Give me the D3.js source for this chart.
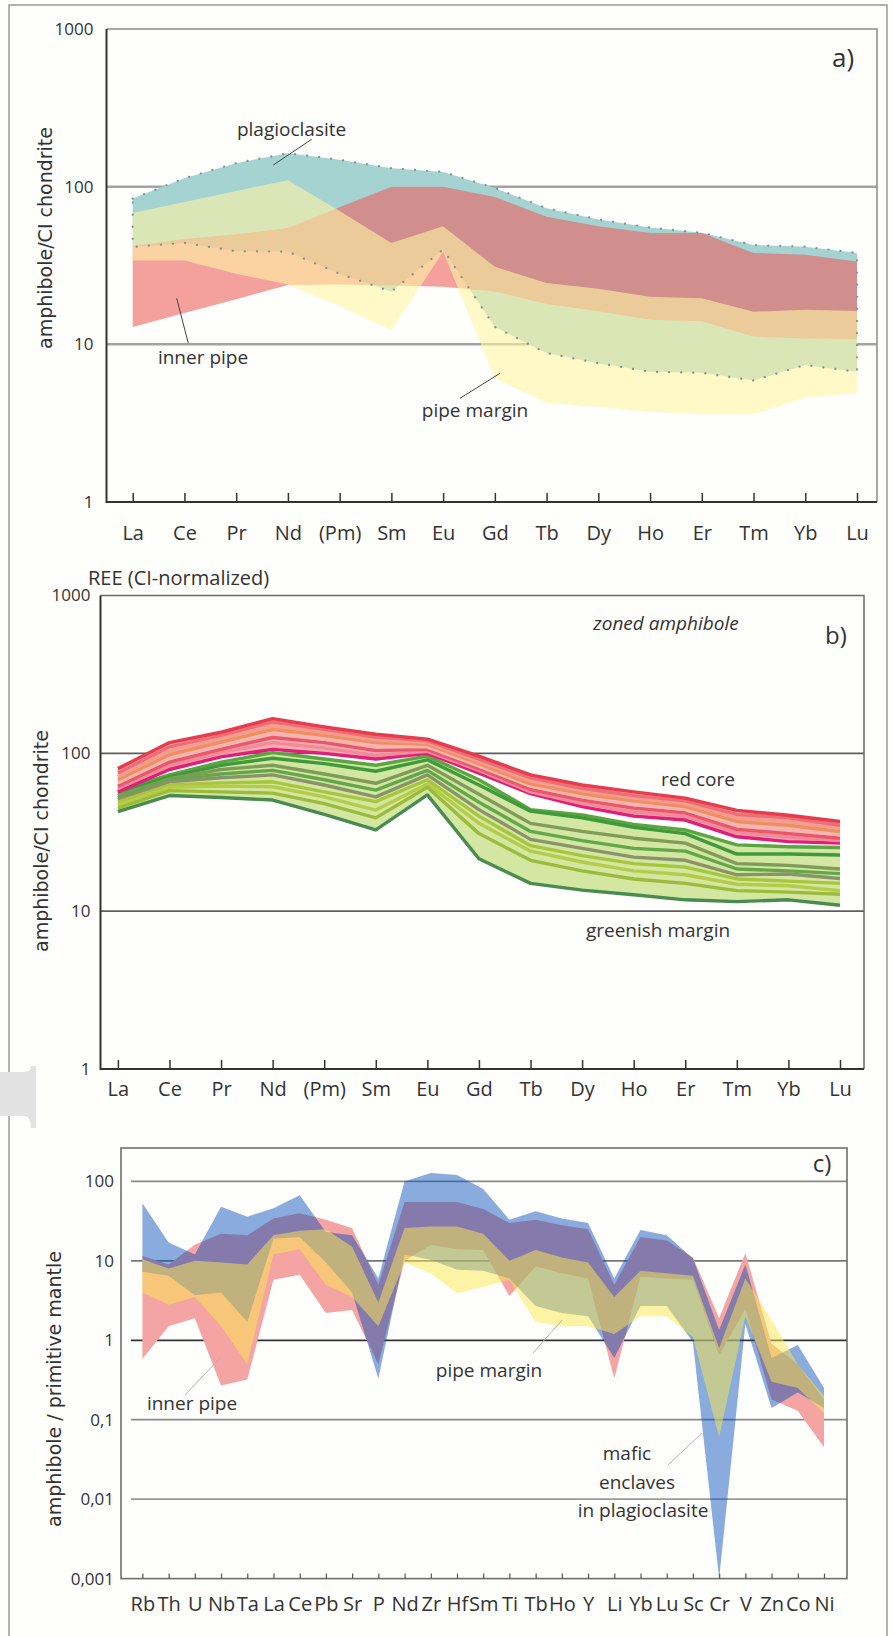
<!DOCTYPE html>
<html>
<head>
<meta charset="utf-8">
<script src="https://cdn.jsdelivr.net/npm/d3@7"></script>
<style>
  html, body { margin: 0; padding: 0; background: #fefefc; }
  svg { display: block; }
  .tick text { fill: #333; }
</style>
</head>
<body>
<script>
// ---------- categories and tick labels ----------
const REE = ["La","Ce","Pr","Nd","(Pm)","Sm","Eu","Gd","Tb","Dy","Ho","Er","Tm","Yb","Lu"];
const TRACE = ["Rb","Th","U","Nb","Ta","La","Ce","Pb","Sr","P","Nd","Zr","Hf","Sm","Ti","Tb","Ho","Y","Li","Yb","Lu","Sc","Cr","V","Zn","Co","Ni"];
const reeTicks = [1, 10, 100, 1000];
const traceTicks = [0.001, 0.01, 0.1, 1, 10, 100];
const traceTickLabels = ["0,001", "0,01", "0,1", "1", "10", "100"];

// ---------- a) REE ranges (CI-normalized) ----------
const plagioclasiteUpper = [84, 113, 141, 163, 148, 131, 124, 98, 73, 62, 55, 51, 42.6, 41.6, 38];
const plagioclasiteLower = [41.5, 44, 39, 38.7, 28, 21.6, 40, 12.9, 8.8, 7.6, 6.7, 6.6, 5.9, 7.4, 6.7];
const innerPipeUpperA = [42, 46.5, 50, 54.6, 74, 100, 100, 86, 64.5, 56, 50.8, 50.8, 38, 37, 33.5];
const innerPipeLowerA = [12.9, 15.8, 19.3, 23.8, 24, 23.6, 23.2, 21.6, 18, 16.2, 14.3, 14, 11.2, 10.9, 10.8];
const pipeMarginUpperA = [68, 80, 94, 110, 70, 44, 56, 31, 24.5, 22.5, 20, 19.6, 16.1, 16.6, 16.3];
const pipeMarginLowerA = [34, 34, 28, 24, 17.5, 12.3, 38.7, 6.1, 4.26, 4.0, 3.74, 3.6, 3.6, 4.6, 4.9];

// ---------- b) zoned amphibole profiles ----------
const redCore1 = [80, 117, 136, 166, 147, 132, 123, 96, 73, 63, 57, 52, 43.5, 40.5, 37];
const redCore2 = [75, 110, 130, 158, 142, 127, 120, 92, 70, 60, 54, 50, 41, 39, 35];
const redCore3 = [71, 104, 124, 150, 136, 122, 117, 89, 67, 58, 52, 48, 39, 37, 33.5];
const redCore4 = [68, 98, 118, 142, 130, 117, 114, 86, 64, 55.5, 50, 46, 37, 35, 32];
const redCore5 = [65, 93, 112, 134, 123, 111, 110, 83, 62, 53, 47.5, 44, 35, 33, 30.5];
const redCore6 = [62, 88, 106, 126, 117, 104, 106, 80, 59, 50.5, 45, 42, 33, 31, 29];
const redCore7 = [60, 84, 101, 117, 108, 97, 103, 78, 57, 48, 42.5, 40, 31.5, 29.5, 28];
const redCore8 = [57, 79, 95, 106, 100, 92, 100, 75, 55.5, 46, 40, 37.8, 29.6, 27.6, 27];

const greenMargin1 = [58, 73, 88, 101, 92, 84, 96, 68, 44, 40.7, 35.5, 32.7, 26.3, 25.6, 25.3];
const greenMargin2 = [56, 71, 84, 93, 86, 77, 91, 63, 43, 39, 34, 31, 23, 23, 22.7];
const greenMargin3 = [54, 69, 79, 84, 74, 64.6, 84, 55, 36, 32, 29, 27, 20, 19.5, 18.5];
const greenMargin4 = [52, 68, 74, 78, 68, 58.5, 78, 49, 32, 28, 25, 24, 18.5, 18, 17.3];
const greenMargin5 = [51, 66, 70, 73, 63, 53, 73, 44, 28.5, 25, 22, 21, 17, 17.2, 16.1];
const greenMargin6 = [49, 63, 65, 66, 57, 49.4, 68, 40, 26, 22.5, 20, 19, 16, 15.5, 15];
const greenMargin7 = [47, 61, 62, 61.4, 53, 43.7, 64, 36, 24, 20.5, 18, 17, 14.8, 14.5, 13.5];
const greenMargin8 = [45, 58, 57, 56, 48, 39, 61, 31, 21, 18, 16, 15, 13.5, 13.2, 12.8];
const greenMargin9 = [42.7, 54, 52.5, 50.6, 41, 32.7, 54.5, 21.5, 15, 13.6, 12.7, 11.8, 11.5, 11.8, 10.9];

// ---------- c) trace-element ranges (primitive-mantle normalized) ----------
const enclaveUpper = [53, 17, 12, 48, 36, 46, 67, 23, 21, 6, 100, 128, 120, 80, 33, 42, 34, 30, 6, 24.5, 21, 10.7, 1.35, 9, 0.6, 0.87, 0.25];
const enclaveLower = [7.3, 6.5, 3.7, 4, 1.7, 19, 20, 9.5, 4, 0.33, 12, 10.3, 7.7, 7.5, 6, 2.7, 2.2, 2, 0.6, 2.7, 2.7, 0.95, 0.001, 1.6, 0.14, 0.22, 0.14];
const innerPipeUpperC = [11.5, 9, 16, 22, 21, 34, 39.6, 33, 25.7, 5, 55, 55, 55, 45, 30, 33, 28, 25, 5, 20, 18, 11, 1.9, 12.5, 0.9, 0.5, 0.18];
const innerPipeLowerC = [0.58, 1.5, 1.9, 0.27, 0.32, 5.8, 6.7, 2.2, 2.4, 0.5, 10, 15.8, 14, 13.7, 3.6, 8.5, 7, 6, 0.33, 6.3, 6, 5.8, 0.65, 2.5, 0.18, 0.13, 0.045];
const pipeMarginUpperC = [10.5, 8, 10, 9.5, 9, 21, 24, 25, 15, 3, 26, 27, 27, 22, 10, 13.7, 11, 9.5, 3.5, 7.5, 7, 6.5, 0.8, 6, 1.8, 0.5, 0.2];
const pipeMarginLowerC = [4, 2.8, 3.5, 1.5, 0.5, 12, 14, 5, 3.5, 1.5, 9.5, 7, 3.9, 4.7, 5.8, 1.7, 1.5, 1.5, 1.2, 2, 2, 1.1, 0.06, 2, 0.3, 0.25, 0.12];

// ---------- page ----------
const W = 893, H = 1636;
const svg = d3.select("body").append("svg").attr("width", W).attr("height", H);
const TICK_FONT = "'Liberation Sans Narrow', 'Open Sans', sans-serif";
const LABEL_FONT = "'Open Sans', sans-serif";
const TITLE_FONT = "'DejaVu Sans', Verdana, sans-serif";

// outer frame of the figure
svg.append("rect").attr("x", 9).attr("y", 5).attr("width", 878).attr("height", 1660)
  .attr("fill", "none").attr("stroke", "#9a9a9a").attr("stroke-width", 1.5);
// tab on the left margin between panels b and c
svg.append("path")
  .attr("d", "M0,1072 L24,1072 Q31,1072 31,1066 L36,1066 L36,1128 L31,1128 Q31,1116 24,1116 L0,1116 Z")
  .attr("fill", "#e2e2e2");

function bandArea(x, y, cats, upper, lower) {
  return d3.area()
    .x((d, i) => x(cats[i]))
    .y0((d, i) => y(lower[i]))
    .y1((d, i) => y(upper[i]))(upper);
}
function outline(x, y, cats, upper, lower) {
  const pts = upper.map((v, i) => [x(cats[i]), y(v)])
    .concat(lower.map((v, i) => [x(cats[i]), y(v)]).reverse());
  return d3.line()(pts) + "Z";
}
function text(g, x, y, s, size, opts = {}) {
  const t = g.append("text").attr("x", x).attr("y", y).text(s)
    .attr("font-family", opts.family || LABEL_FONT)
    .attr("font-size", size)
    .attr("fill", opts.fill || "#333")
    .attr("text-anchor", opts.anchor || "middle")
    .attr("dominant-baseline", "central");
  if (opts.italic) t.attr("font-style", "italic");
  if (opts.rotate) t.attr("transform", `rotate(-90,${x},${y})`);
  return t;
}
function leader(g, x1, y1, x2, y2, color) {
  g.append("line").attr("x1", x1).attr("y1", y1).attr("x2", x2).attr("y2", y2)
    .attr("stroke", color).attr("stroke-width", 1);
}

// ================= panel a =================
{
  const L = 106.5, R = 877, T = 29, B = 502;
  const x = d3.scalePoint(REE, [132.7, 857]);
  const y = d3.scaleLog([1, 1000], [B, T]);
  const g = svg.append("g");

  // gridlines
  [10, 100].forEach(v => g.append("line").attr("x1", L).attr("x2", R)
    .attr("y1", y(v)).attr("y2", y(v)).attr("stroke", "#a3a3a3").attr("stroke-width", 2.5));

  g.append("path").attr("d", bandArea(x, y, REE, plagioclasiteUpper, plagioclasiteLower))
    .attr("fill", "#a5d3d2");
  g.append("path").attr("d", bandArea(x, y, REE, innerPipeUpperA, innerPipeLowerA))
    .attr("fill", "rgb(237,97,93)").attr("fill-opacity", 0.6);
  g.append("path").attr("d", bandArea(x, y, REE, pipeMarginUpperA, pipeMarginLowerA))
    .attr("fill", "rgb(255,243,163)").attr("fill-opacity", 0.6);
  // dotted envelope of the plagioclasite field
  g.append("path").attr("d", outline(x, y, REE, plagioclasiteUpper, plagioclasiteLower))
    .attr("fill", "none").attr("stroke", "#7f9393").attr("stroke-width", 2.2)
    .attr("stroke-linecap", "round").attr("stroke-dasharray", "0.1 12");

  // frame
  g.append("path").attr("d", `M${L},${T}H${R}V${B}`).attr("fill", "none")
    .attr("stroke", "#8c8c8c").attr("stroke-width", 1.5);
  g.append("path").attr("d", `M${L},${T}V${B}H${R}`).attr("fill", "none")
    .attr("stroke", "#333").attr("stroke-width", 2);

  const xa = g.append("g").attr("transform", `translate(0,${B})`)
    .call(d3.axisBottom(x).tickSize(-9).tickPadding(24));
  xa.select(".domain").remove();
  xa.selectAll("line").attr("stroke", "#333").attr("stroke-width", 1.5);
  xa.selectAll("text").attr("font-family", TICK_FONT).attr("font-size", 20);

  const ya = g.append("g").attr("transform", `translate(${L},0)`)
    .call(d3.axisLeft(y).tickValues(reeTicks).tickFormat(d3.format("d")).tickSize(0).tickPadding(13));
  ya.select(".domain").remove();
  ya.selectAll("text").attr("font-family", LABEL_FONT).attr("font-size", 17);

  text(g, 45, 238, "amphibole/CI chondrite", 19, { family: TITLE_FONT, rotate: true });
  text(g, 843, 57, "a)", 26);
  text(g, 291.6, 129, "plagioclasite", 19);
  leader(g, 311.7, 139.3, 273.3, 165, "#444");
  text(g, 203, 357, "inner pipe", 19);
  leader(g, 188.3, 343.3, 176.7, 298.3, "#444");
  text(g, 475, 410, "pipe margin", 19);
  leader(g, 460, 398.3, 500, 373.3, "#444");
}

// ================= panel b =================
{
  const L = 100.5, R = 864, T = 595.5, B = 1069;
  const x = d3.scalePoint(REE, [117.9, 840]);
  const y = d3.scaleLog([1, 1000], [B, T]);
  const g = svg.append("g");

  [10, 100].forEach(v => g.append("line").attr("x1", L).attr("x2", R)
    .attr("y1", y(v)).attr("y2", y(v)).attr("stroke", "#5e5e5e").attr("stroke-width", 1.8));

  const line = d3.line().x((d, i) => x(REE[i])).y(d => y(d));

  // greenish margin field
  g.append("path").attr("d", bandArea(x, y, REE, greenMargin1, greenMargin9))
    .attr("fill", "#d3e6a2");
  const greens = [
    [greenMargin1, "#5aa640"], [greenMargin2, "#3f9a3c"], [greenMargin3, "#7f9c58"],
    [greenMargin4, "#62a84a"], [greenMargin5, "#8a9468"], [greenMargin6, "#a8c63c"],
    [greenMargin7, "#b5cc48"], [greenMargin8, "#9dbb3a"], [greenMargin9, "#4a8c50"]
  ];
  greens.forEach(([d, c]) => g.append("path").attr("d", line(d)).attr("fill", "none")
    .attr("stroke", c).attr("stroke-width", 3.4).attr("stroke-linejoin", "round"));

  // red core field
  g.append("path").attr("d", bandArea(x, y, REE, redCore1, redCore8))
    .attr("fill", "#f5aeac");
  const reds = [
    [redCore8, "#e01f78"], [redCore7, "#f08a9c"], [redCore6, "#e85868"], [redCore5, "#f6b4b2"],
    [redCore4, "#ef8f5c"], [redCore3, "#f29c92"], [redCore2, "#ee6e76"], [redCore1, "#e63c4e"]
  ];
  reds.forEach(([d, c]) => g.append("path").attr("d", line(d)).attr("fill", "none")
    .attr("stroke", c).attr("stroke-width", 3.4).attr("stroke-linejoin", "round"));

  g.append("path").attr("d", `M${L},${T}H${R}V${B}`).attr("fill", "none")
    .attr("stroke", "#6a6a6a").attr("stroke-width", 1.5);
  g.append("path").attr("d", `M${L},${T}V${B}H${R}`).attr("fill", "none")
    .attr("stroke", "#333").attr("stroke-width", 2);

  const xa = g.append("g").attr("transform", `translate(0,${B})`)
    .call(d3.axisBottom(x).tickSize(-9).tickPadding(13));
  xa.select(".domain").remove();
  xa.selectAll("line").attr("stroke", "#333").attr("stroke-width", 1.5);
  xa.selectAll("text").attr("font-family", TICK_FONT).attr("font-size", 20);

  const ya = g.append("g").attr("transform", `translate(${L},0)`)
    .call(d3.axisLeft(y).tickValues(reeTicks).tickFormat(d3.format("d")).tickSize(0).tickPadding(10));
  ya.select(".domain").remove();
  ya.selectAll("text").attr("font-family", LABEL_FONT).attr("font-size", 17);

  text(g, 88, 577, "REE (CI-normalized)", 20, { anchor: "start" });
  text(g, 41, 841, "amphibole/CI chondrite", 19, { family: TITLE_FONT, rotate: true });
  text(g, 666, 623, "zoned amphibole", 19, { italic: true });
  text(g, 836, 634, "b)", 24);
  text(g, 698, 779, "red core", 19);
  text(g, 658, 930, "greenish margin", 19);
}

// ================= panel c =================
{
  const L = 121, R = 847, T = 1148, B = 1578.6;
  const x = d3.scalePoint(TRACE, [142.4, 824]);
  const y = d3.scaleLog([0.001, 100], [B, 1181.4]);
  const g = svg.append("g");

  const gridColor = { 0.01: "#9a9a9a", 0.1: "#8a8a8a", 1: "#333", 10: "#777", 100: "#8a8a8a" };
  [0.01, 0.1, 1, 10, 100].forEach(v => g.append("line").attr("x1", 131).attr("x2", R)
    .attr("y1", y(v)).attr("y2", y(v)).attr("stroke", gridColor[v]).attr("stroke-width", 1.8));

  g.append("path").attr("d", bandArea(x, y, TRACE, innerPipeUpperC, innerPipeLowerC))
    .attr("fill", "#f4a4a2");
  g.append("path").attr("d", bandArea(x, y, TRACE, enclaveUpper, enclaveLower))
    .attr("fill", "rgb(0,75,185)").attr("fill-opacity", 0.46);
  g.append("path").attr("d", bandArea(x, y, TRACE, pipeMarginUpperC, pipeMarginLowerC))
    .attr("fill", "rgb(251,231,77)").attr("fill-opacity", 0.5);

  g.append("rect").attr("x", L).attr("y", T).attr("width", R - L).attr("height", B - T)
    .attr("fill", "none").attr("stroke", "#6f6f6f").attr("stroke-width", 1.6);

  const xa = g.append("g").attr("transform", `translate(0,${B})`)
    .call(d3.axisBottom(x).tickSize(-5).tickPadding(18));
  xa.select(".domain").remove();
  xa.selectAll("line").attr("stroke", "#555").attr("stroke-width", 1.2);
  xa.selectAll("text").attr("font-family", TICK_FONT).attr("font-size", 20);

  const ya = g.append("g").attr("transform", `translate(${L},0)`)
    .call(d3.axisLeft(y).tickValues(traceTicks)
      .tickFormat((d, i) => traceTickLabels[i]).tickSize(0).tickPadding(7));
  ya.select(".domain").remove();
  ya.selectAll("text").attr("font-family", LABEL_FONT).attr("font-size", 17);

  text(g, 54, 1389, "amphibole / primitive mantle", 19, { family: TITLE_FONT, rotate: true });
  text(g, 822, 1162, "c)", 24);
  text(g, 192, 1403, "inner pipe", 19);
  leader(g, 185, 1395, 220, 1358, "#b5b5b5");
  text(g, 489, 1370, "pipe margin", 19);
  leader(g, 533, 1353, 562, 1320, "#b5b5b5");
  text(g, 627, 1453, "mafic", 19);
  text(g, 637, 1482, "enclaves", 19);
  text(g, 643, 1510, "in plagioclasite", 19);
  leader(g, 668, 1465, 702, 1433, "#b5b5b5");
}
</script>
</body>
</html>
